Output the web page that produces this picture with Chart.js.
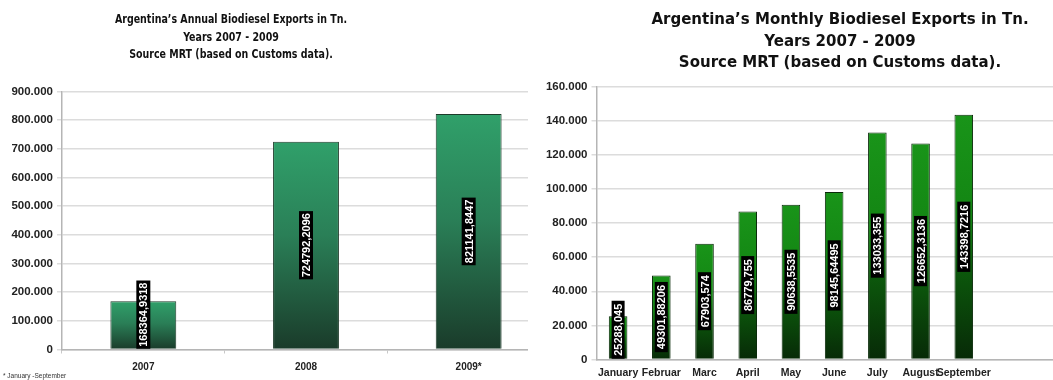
<!DOCTYPE html>
<html><head><meta charset="utf-8">
<script src="https://cdn.jsdelivr.net/npm/chart.js@4.4.0/dist/chart.umd.min.js"></script>
<style>
html,body{margin:0;padding:0;background:#fff;overflow:hidden;width:1053px;height:380px;}
#wrap{position:relative;width:1053px;height:380px;overflow:hidden;background:#fff;}
#c1{position:absolute;left:0;top:0;}
#c2{position:absolute;left:528px;top:0;background:#fff;}
</style></head><body>
<div id="wrap"><canvas id="c1" width="552" height="380"></canvas><canvas id="c2" width="624" height="380"></canvas></div>
<script>
// ---- data ----
const annualCategories = ['2007', '2008', '2009*'];
const annualExports = [168364.9318, 724792.2096, 821141.8447];
const annualAxisMax = 900000, annualAxisStep = 100000;

const monthlyCategories = ['January', 'Februar', 'Marc', 'April', 'May', 'June', 'July', 'August', 'September'];
const monthlyExports = [25288.045, 49301.88206, 67903.574, 86779.755, 90638.5535, 98145.64495, 133033.355, 126652.3136, 143398.7216];
const monthlyEmptySlots = ['', '', ''];
const monthlyAxisMax = 160000, monthlyAxisStep = 20000;

const annualTitle = ['Argentina\u2019s Annual Biodiesel Exports in Tn.', 'Years 2007 - 2009', 'Source MRT (based on Customs data).'];
const monthlyTitle = ['Argentina\u2019s Monthly Biodiesel Exports in Tn.', 'Years 2007 - 2009', 'Source MRT (based on Customs data).'];
const annualFootnote = '* January -September';

// ---- helpers ----
function fmtThousands(v){ return String(v).replace(/\B(?=(\d{3})+(?!\d))/g, '.'); }
function fmtDecimal(v){ return String(v).replace('.', ','); }

function barGradient(stops, fallback){
  return function(c){
    const chart = c.chart;
    if (!chart.chartArea || c.raw == null) return fallback;
    const ys = chart.scales.y;
    const yTop = ys.getPixelForValue(c.raw), yBot = ys.getPixelForValue(0);
    const g = chart.ctx.createLinearGradient(0, yTop, 0, yBot);
    stops.forEach(s => g.addColorStop(s[0], s[1]));
    return g;
  };
}

const valueBoxes = {
  id: 'valueBoxes',
  afterDatasetsDraw(chart, args, opts){
    const ctx = chart.ctx;
    const meta = chart.getDatasetMeta(0);
    const ds = chart.data.datasets[0];
    ctx.save();
    ctx.font = opts.font;
    meta.data.forEach((bar, i) => {
      const v = ds.data[i];
      if (v == null) return;
      const txt = fmtDecimal(v);
      const len = ctx.measureText(txt).width + 2 * opts.pad;
      const thick = opts.thick;
      const base = bar.base, top = bar.y;
      let cy = (base + top) / 2;
      if (cy + len / 2 > base) cy = base - len / 2;
      ctx.save();
      ctx.translate(bar.x, cy);
      ctx.rotate(-Math.PI / 2);
      ctx.fillStyle = '#000';
      ctx.fillRect(-len / 2, -thick / 2, len, thick);
      ctx.fillStyle = '#fff';
      ctx.textAlign = 'center';
      ctx.textBaseline = 'middle';
      ctx.fillText(txt, 0, 1);
      ctx.restore();
    });
    ctx.restore();
  }
};

const textBlocks = {
  id: 'textBlocks',
  afterDraw(chart, args, opts){
    const ctx = chart.ctx;
    (opts.items || []).forEach(it => {
      ctx.save();
      ctx.font = it.font;
      ctx.fillStyle = it.color;
      ctx.textBaseline = 'middle';
      ctx.textAlign = it.align || 'center';
      ctx.translate(it.x, it.y);
      ctx.scale(it.scaleX || 1, 1);
      ctx.fillText(it.text, 0, 0);
      ctx.restore();
    });
  }
};

const tickFont = {family: "'Liberation Sans', Arial, sans-serif", weight: 'bold', size: 11.5};
const leftTitleFont = "bold 12px 'DejaVu Sans', Verdana, sans-serif";
const rightTitleFont = "bold 15px 'DejaVu Sans', Verdana, sans-serif";

// ---- annual chart ----
new Chart(document.getElementById('c1'), {
  type: 'bar',
  data: {
    labels: annualCategories,
    datasets: [{
      data: annualExports,
      backgroundColor: barGradient([[0, '#30a06a'], [0.45, '#2a7f57'], [1, '#1a3b2a']], '#2a7f57'),
      borderColor: '#1d3b2a',
      borderWidth: 1,
      barPercentage: 0.405,
      categoryPercentage: 1
    }]
  },
  options: {
    responsive: false,
    animation: false,
    layout: {padding: {top: 91.5, right: 2, bottom: 0, left: 0}, autoPadding: false},
    plugins: {
      legend: {display: false},
      tooltip: {enabled: false},
      valueBoxes: {font: "bold 11px 'Liberation Sans', Arial, sans-serif", pad: 2, thick: 14},
      textBlocks: {items: [
        {text: annualTitle[0], x: 231, y: 20, font: leftTitleFont, color: '#111', scaleX: 0.79},
        {text: annualTitle[1], x: 231, y: 38, font: leftTitleFont, color: '#111', scaleX: 0.79},
        {text: annualTitle[2], x: 231, y: 55, font: leftTitleFont, color: '#111', scaleX: 0.79},
        {text: annualFootnote, x: 3, y: 376, font: "6.5px 'Liberation Sans', Arial, sans-serif", color: '#333', align: 'left'}
      ]}
    },
    scales: {
      x: {
        offset: true,
        grid: {display: true, drawOnChartArea: false, drawTicks: true, tickLength: 4, color: '#c8c8c8', offset: true},
        border: {color: '#b5b5b5', width: 1.5},
        ticks: {font: {family: "'Liberation Sans', Arial, sans-serif", weight: 'bold', size: 10}, color: '#222', padding: 8, maxRotation: 0},
        afterFit(s){ s.height = 30.5; }
      },
      y: {
        min: 0, max: annualAxisMax,
        ticks: {stepSize: annualAxisStep, callback: v => fmtThousands(v), font: tickFont, color: '#222', padding: 4},
        grid: {color: '#dcdcdc', lineWidth: 1.5, tickLength: 5, drawTicks: true},
        border: {color: '#b5b5b5', width: 1.5},
        afterFit(s){ s.width = 62; }
      }
    }
  },
  plugins: [valueBoxes, textBlocks]
});

// ---- monthly chart ----
new Chart(document.getElementById('c2'), {
  type: 'bar',
  data: {
    labels: monthlyCategories.concat(monthlyEmptySlots),
    datasets: [{
      data: monthlyExports,
      backgroundColor: barGradient([[0, '#199419'], [0.42, '#138513'], [0.62, '#0c5a0c'], [1, '#072a07']], '#138513'),
      borderColor: '#0a2a0a',
      borderWidth: 1,
      barPercentage: 0.43,
      categoryPercentage: 1
    }]
  },
  options: {
    responsive: false,
    animation: false,
    layout: {padding: {top: 86.5, right: 37, bottom: 0, left: 0}, autoPadding: false},
    plugins: {
      legend: {display: false},
      tooltip: {enabled: false},
      valueBoxes: {font: "bold 11px 'Liberation Sans', Arial, sans-serif", pad: 3, thick: 13},
      textBlocks: {items: [
        {text: monthlyTitle[0], x: 312, y: 20, font: rightTitleFont, color: '#111'},
        {text: monthlyTitle[1], x: 312, y: 42, font: rightTitleFont, color: '#111'},
        {text: monthlyTitle[2], x: 312, y: 63, font: rightTitleFont, color: '#111'}
      ]}
    },
    scales: {
      x: {
        offset: true,
        grid: {display: false, drawTicks: false},
        border: {color: '#b5b5b5', width: 1.5},
        ticks: {font: {family: "'Liberation Sans', Arial, sans-serif", weight: 'bold', size: 10.5}, color: '#222', padding: 7, maxRotation: 0, autoSkip: false},
        afterFit(s){ s.height = 20.5; }
      },
      y: {
        min: 0, max: monthlyAxisMax,
        ticks: {stepSize: monthlyAxisStep, callback: v => fmtThousands(v), font: tickFont, color: '#222', padding: 4},
        grid: {color: '#dcdcdc', lineWidth: 1.5, tickLength: 5, drawTicks: true},
        border: {color: '#b5b5b5', width: 1.5},
        afterFit(s){ s.width = 68.5; }
      }
    }
  },
  plugins: [valueBoxes, textBlocks]
});
</script>
</body></html>
